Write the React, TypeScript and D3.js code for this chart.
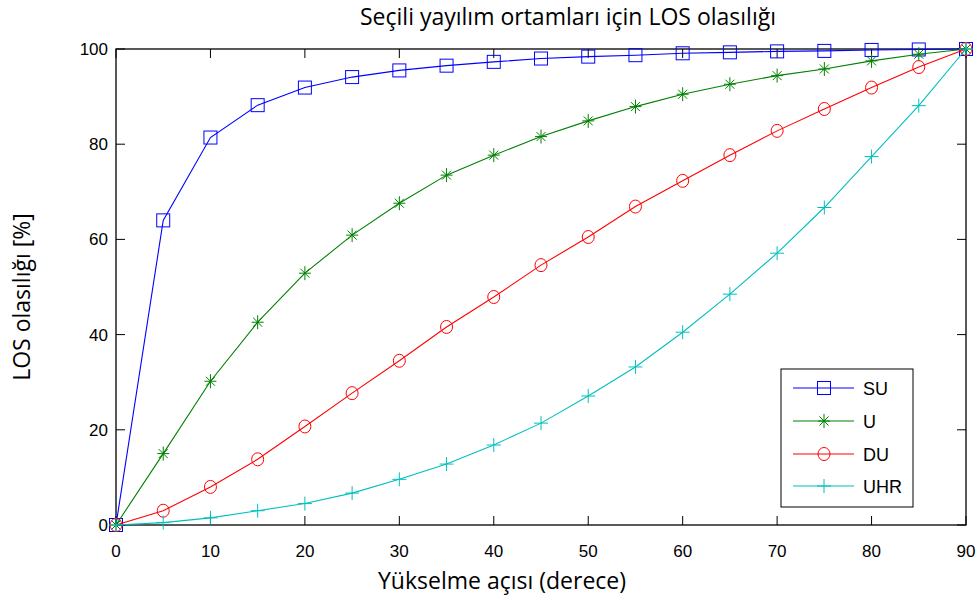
import React from "react";
import * as d3 from "d3";

const angles = [0, 5, 10, 15, 20, 25, 30, 35, 40, 45, 50, 55, 60, 65, 70, 75, 80, 85, 90];
const su = [0, 64, 81.4, 88.2, 91.9, 94.1, 95.5, 96.5, 97.3, 98.0, 98.4, 98.7, 99.1, 99.3, 99.5, 99.6, 99.8, 99.9, 100];
const u = [0, 15.0, 30.2, 42.6, 52.9, 60.9, 67.6, 73.5, 77.7, 81.6, 84.9, 87.9, 90.5, 92.6, 94.4, 95.8, 97.5, 98.9, 100];
const du = [0, 3.0, 8.0, 13.8, 20.7, 27.7, 34.5, 41.6, 47.9, 54.6, 60.5, 66.9, 72.3, 77.7, 82.8, 87.4, 91.9, 96.2, 100];
const uhr = [0, 0.5, 1.5, 3.0, 4.5, 6.7, 9.6, 12.8, 16.8, 21.4, 27.1, 33.2, 40.5, 48.5, 57.1, 66.7, 77.4, 88.1, 100];
const xTicks = [0, 10, 20, 30, 40, 50, 60, 70, 80, 90];
const yTicks = [0, 20, 40, 60, 80, 100];
const seriesNames = ["SU", "U", "DU", "UHR"];
const seriesColors = ["#0000ff", "#008000", "#ff0000", "#00bfbf"];
const seriesMarkers = ["square", "star", "circle", "plus"];

const W = 978, H = 600;
const L = 116, R = 966, T = 49, B = 525;

function Marker({ type, x, y, color }: { type: string; x: number; y: number; color: string }) {
  if (type === "square") return <rect x={x - 6.5} y={y - 6.5} width={13} height={13} fill="none" stroke={color} strokeWidth={1} />;
  if (type === "circle") return <ellipse cx={x} cy={y} rx={6} ry={6.5} fill="none" stroke={color} strokeWidth={1} />;
  if (type === "plus")
    return (
      <g stroke={color} strokeWidth={1}>
        <line x1={x - 7} y1={y} x2={x + 7} y2={y} />
        <line x1={x} y1={y - 7} x2={x} y2={y + 7} />
      </g>
    );
  return (
    <g stroke={color} strokeWidth={1}>
      <line x1={x - 6} y1={y} x2={x + 6} y2={y} />
      <line x1={x} y1={y - 7} x2={x} y2={y + 7} />
      <line x1={x - 4.5} y1={y - 4.5} x2={x + 4.5} y2={y + 4.5} />
      <line x1={x - 4.5} y1={y + 4.5} x2={x + 4.5} y2={y - 4.5} />
    </g>
  );
}

export default function App() {
  const x = d3.scaleLinear().domain([0, 90]).range([L, R]);
  const y = d3.scaleLinear().domain([0, 100]).range([B, T]);
  const data = [su, u, du, uhr];
  const line = d3
    .line<number>()
    .x((_, i) => x(angles[i]))
    .y((d) => y(d));
  const tickFont = "'Liberation Sans', Arial, sans-serif";
  const labelFont = "'Open Sans', 'Noto Sans', sans-serif";
  const legX = 781, legY = 369, legW = 132, legH = 138;
  const rowY = [388, 421, 454, 486];

  return (
    <svg width={W} height={H} style={{ position: "absolute", left: 0, top: 0, background: "#fff" }}>
      <rect x={0} y={0} width={W} height={H} fill="#fff" />
      {xTicks.map((t) => (
        <g key={"xt" + t} stroke="#000" strokeWidth={1}>
          <line x1={x(t)} y1={B} x2={x(t)} y2={B - 9} />
          <line x1={x(t)} y1={T} x2={x(t)} y2={T + 9} />
        </g>
      ))}
      {yTicks.map((t) => (
        <g key={"yt" + t} stroke="#000" strokeWidth={1}>
          <line x1={L} y1={y(t)} x2={L + 9} y2={y(t)} />
          <line x1={R} y1={y(t)} x2={R - 9} y2={y(t)} />
        </g>
      ))}
      <rect x={L} y={T} width={R - L} height={B - T} fill="none" stroke="#000" strokeWidth={1.3} />
      {data.map((s, si) => (
        <g key={"s" + si}>
          <path d={line(s) || ""} fill="none" stroke={seriesColors[si]} strokeWidth={1.1} />
          {s.map((v, i) => (
            <Marker key={i} type={seriesMarkers[si]} x={x(angles[i])} y={y(v)} color={seriesColors[si]} />
          ))}
        </g>
      ))}
      {xTicks.map((t) => (
        <text key={"xl" + t} x={x(t)} y={557} textAnchor="middle" fontFamily={tickFont} fontSize={17} fill="#000">
          {t}
        </text>
      ))}
      {yTicks.map((t) => (
        <text key={"yl" + t} x={108} y={y(t) + 6} textAnchor="end" fontFamily={tickFont} fontSize={17} fill="#000">
          {t}
        </text>
      ))}
      <text x={568} y={25} textAnchor="middle" fontFamily={labelFont} fontSize={23} fill="#000">
        Seçili yayılım ortamları için LOS olasılığı
      </text>
      <text x={502} y={589} textAnchor="middle" fontFamily={labelFont} fontSize={23} fill="#000">
        Yükselme açısı (derece)
      </text>
      <text
        transform={`translate(30, 297) rotate(-90)`}
        textAnchor="middle"
        fontFamily={labelFont}
        fontSize={23}
        fill="#000"
      >
        LOS olasılığı [%]
      </text>
      <rect x={legX} y={legY} width={legW} height={legH} fill="#fff" stroke="#000" strokeWidth={1} />
      {seriesNames.map((n, i) => (
        <g key={"lg" + n}>
          <line x1={793} y1={rowY[i]} x2={854} y2={rowY[i]} stroke={seriesColors[i]} strokeWidth={1.1} />
          <Marker type={seriesMarkers[i]} x={824} y={rowY[i]} color={seriesColors[i]} />
          <text x={863} y={rowY[i] + 7} fontFamily={tickFont} fontSize={18} fill="#000">
            {n}
          </text>
        </g>
      ))}
    </svg>
  );
}
